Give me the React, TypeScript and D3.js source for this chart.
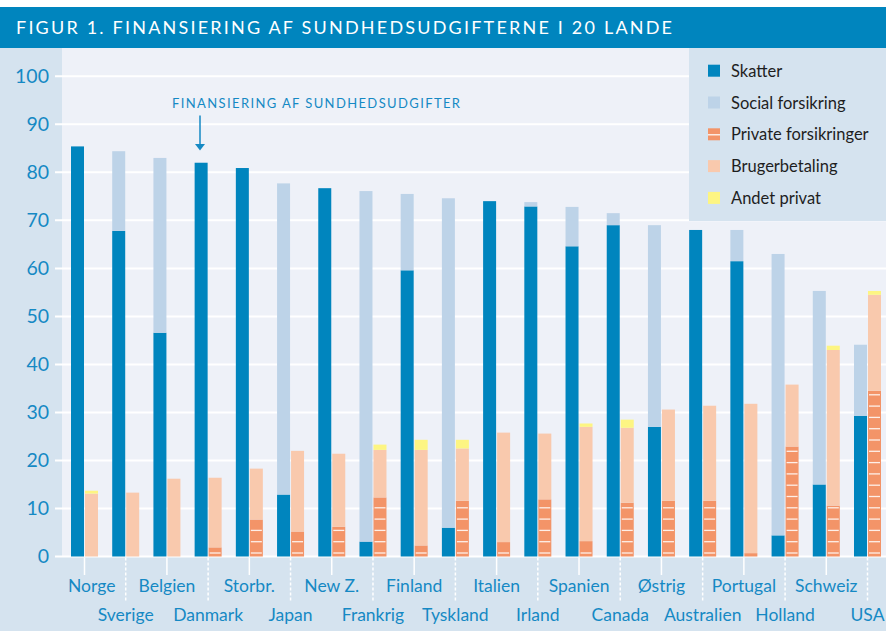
import React from "react";
import * as d3 from "d3";

const countries = ["Norge","Sverige","Belgien","Danmark","Storbr.","Japan","New Z.","Frankrig","Finland","Tyskland","Italien","Irland","Spanien","Canada","Østrig","Australien","Portugal","Holland","Schweiz","USA"];
const skatter = [85.4, 67.8, 46.6, 82.0, 80.9, 12.9, 76.7, 3.1, 59.6, 6.0, 74.0, 72.9, 64.6, 69.0, 27.0, 68.0, 61.5, 4.4, 15.0, 29.3];
const socialForsikring = [0, 16.6, 36.4, 0, 0, 64.8, 0, 73.0, 15.9, 68.6, 0, 0.9, 8.2, 2.5, 42.0, 0, 6.5, 58.6, 40.3, 14.8];
const privateForsikringer = [0, 0, 0, 1.9, 7.7, 5.2, 6.2, 12.3, 2.3, 11.6, 3.0, 11.9, 3.2, 11.2, 11.6, 11.6, 0.7, 22.9, 10.6, 34.5];
const brugerbetaling = [13.1, 13.3, 16.2, 14.5, 10.6, 16.8, 15.2, 9.9, 19.9, 10.9, 22.8, 13.7, 23.8, 15.6, 19.0, 19.8, 31.1, 12.9, 32.4, 20.0];
const andetPrivat = [0.6, 0, 0, 0, 0, 0, 0, 1.1, 2.1, 1.8, 0, 0, 0.7, 1.7, 0, 0, 0, 0, 0.9, 0.8];
const yTicks = [0, 10, 20, 30, 40, 50, 60, 70, 80, 90, 100];

const legendItems = [
  { label: "Skatter", color: "#0085BE", stripe: false },
  { label: "Social forsikring", color: "#BDD3E8", stripe: false },
  { label: "Private forsikringer", color: "#F39468", stripe: true },
  { label: "Brugerbetaling", color: "#F9C9AD", stripe: false },
  { label: "Andet privat", color: "#FDF582", stripe: false },
];

const W = 886, H = 631;
const C = {
  header: "#0085BE",
  panel: "#D5E3EF",
  plot: "#EEF1F8",
  text: "#1589C4",
  skat: "#0085BE",
  social: "#BDD3E8",
  fors: "#F39468",
  bruger: "#F9C9AD",
  andet: "#FDF582",
};
const FONT = "Lato, 'Open Sans', sans-serif";

export default function App() {
  const y = d3.scaleLinear().domain([0, 100]).range([556.5, 76.3]);
  const x = d3.scalePoint<string>().domain(countries).range([84.5, 867.5]);
  const bw = 13;
  const plotLeft = 62;
  const baseY = y(0);

  const bars: React.ReactNode[] = [];
  countries.forEach((c, i) => {
    const cx = x(c)!;
    const lx = cx - 13.5;
    const rx = cx + 0.5;
    // public bar
    const pub = [
      { v: skatter[i], col: C.skat },
      { v: socialForsikring[i], col: C.social },
    ];
    let acc = 0;
    pub.forEach((s, k) => {
      if (s.v > 0) {
        bars.push(
          <rect key={`p${i}-${k}`} x={lx} y={y(acc + s.v)} width={bw} height={y(acc) - y(acc + s.v)} fill={s.col} />
        );
      }
      acc += s.v;
    });
    // private bar
    const priv = [
      { v: privateForsikringer[i], col: C.fors },
      { v: brugerbetaling[i], col: C.bruger },
      { v: andetPrivat[i], col: C.andet },
    ];
    acc = 0;
    priv.forEach((s, k) => {
      if (s.v > 0) {
        bars.push(
          <rect key={`q${i}-${k}`} x={rx} y={y(acc + s.v)} width={bw} height={y(acc) - y(acc + s.v)} fill={s.col} />
        );
        if (k === 0) {
          const top = y(s.v);
          for (let sy = baseY - 3.5; sy > top + 2; sy -= 11.3) {
            bars.push(
              <line key={`s${i}-${sy}`} x1={rx + 1} x2={rx + bw - 1} y1={sy} y2={sy} stroke="#fff" strokeOpacity={0.85} strokeWidth={1.3} />
            );
          }
        }
      }
      acc += s.v;
    });
  });

  return (
    <svg width={W} height={H} style={{ position: "absolute", left: 0, top: 0 }} fontFamily={FONT}>
      <rect x={0} y={0} width={W} height={H} fill="#fff" />
      {/* plot background */}
      <rect x={0} y={47} width={W} height={H - 47} fill={C.plot} />
      {/* left panel */}
      <rect x={0} y={47} width={plotLeft} height={H - 47} fill={C.panel} />
      {/* bottom panel */}
      <rect x={0} y={baseY + 0.5} width={W} height={H - baseY} fill={C.panel} />
      {/* header */}
      <rect x={0} y={7} width={W} height={41} fill={C.header} />
      <text x={16} y={34} fill="#fff" fontSize={18} textLength={656} lengthAdjust="spacing">
        FIGUR 1. FINANSIERING AF SUNDHEDSUDGIFTERNE I 20 LANDE
      </text>

      {/* gridlines */}
      {yTicks.map((t) => (
        <line key={`g${t}`} x1={55} x2={W} y1={y(t)} y2={y(t)} stroke="#fff" strokeWidth={2} />
      ))}
      {yTicks.map((t) => (
        <text key={`yl${t}`} x={49} y={y(t) + 6.5} textAnchor="end" fill={C.text} fontSize={19.5}>
          {t}
        </text>
      ))}

      {/* legend box */}
      <rect x={689} y={48} width={W - 689} height={173} fill={C.panel} />
      {legendItems.map((it, k) => {
        const ly = 64.7 + k * 31.8;
        return (
          <g key={`lg${k}`}>
            <rect x={708} y={ly} width={12} height={12} fill={it.color} />
            {it.stripe && <line x1={708} x2={720} y1={ly + 6.5} y2={ly + 6.5} stroke="#fff" strokeWidth={1.2} />}
            <text x={731} y={ly + 12} fill="#1e1e1e" fontSize={16.5}>
              {it.label}
            </text>
          </g>
        );
      })}

      {/* bars */}
      {bars}

      {/* annotation */}
      <text x={172} y={108} fill={C.text} fontSize={13} textLength={288} lengthAdjust="spacing">
        FINANSIERING AF SUNDHEDSUDGIFTER
      </text>
      <line x1={200} x2={200} y1={115.5} y2={146} stroke={C.text} strokeWidth={1.5} />
      <path d="M195,144 L205,144 L200,150.5 Z" fill={C.text} />

      {/* x ticks and labels */}
      {countries.map((c, i) => {
        const cx = x(c)!;
        const upper = i % 2 === 0;
        return (
          <g key={`x${i}`}>
            <line
              x1={cx}
              x2={cx}
              y1={baseY + 1}
              y2={upper ? 575 : 601}
              stroke="#fff"
              strokeWidth={1.5}
              strokeDasharray={upper ? undefined : "3,2"}
            />
            <text
              x={i === 0 ? 68 : cx}
              y={upper ? 592 : 620.5}
              textAnchor={i === 0 ? "start" : "middle"}
              fill={C.text}
              fontSize={17.5}
            >
              {c}
            </text>
          </g>
        );
      })}
    </svg>
  );
}
